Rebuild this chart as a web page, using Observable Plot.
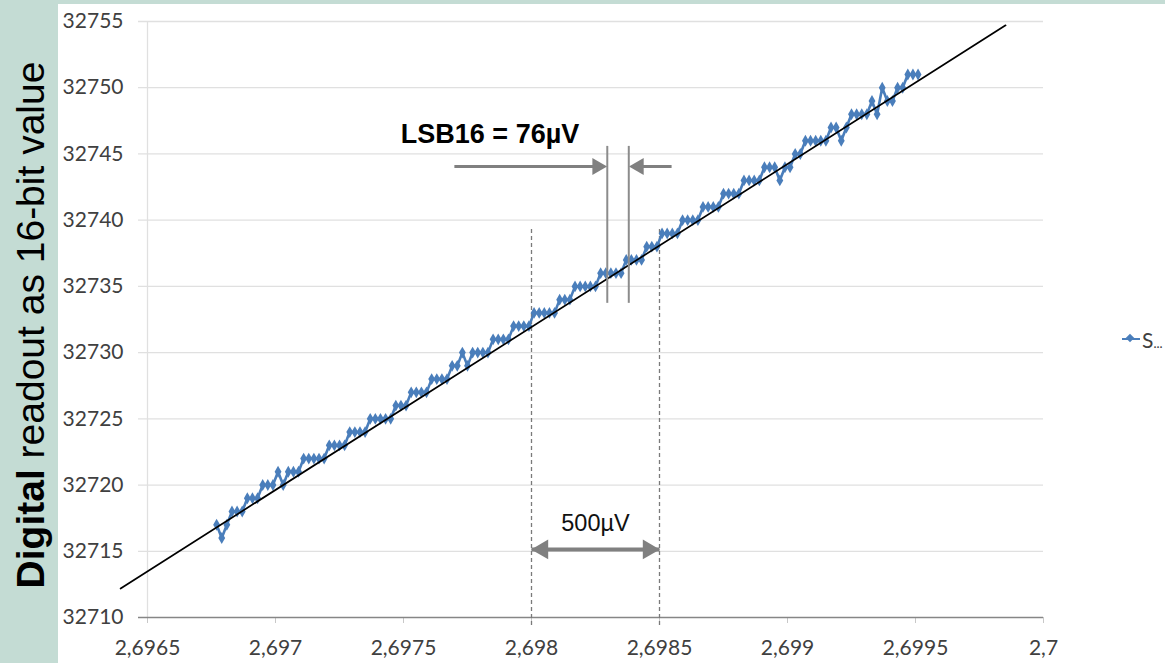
<!DOCTYPE html>
<html><head><meta charset="utf-8">
<script src="https://cdn.jsdelivr.net/npm/d3@7"></script>
<script src="https://cdn.jsdelivr.net/npm/@observablehq/plot@0.6"></script>
<style>
html,body{margin:0;padding:0;background:#fff;}
#wrap{position:relative;width:1165px;height:663px;overflow:hidden;background:#fff;}
#bandL{position:absolute;left:0;top:0;width:58px;height:663px;background:#c4dcd4;}
#bandT{position:absolute;left:0;top:0;width:1165px;height:4px;background:#c4dcd4;}
#ytitle{position:absolute;left:31px;top:325px;transform:translate(-50%,-50%) rotate(-90deg);white-space:nowrap;font-family:"Liberation Sans",Arial,sans-serif;font-size:39px;color:#000;}
#chart{position:absolute;left:0;top:0;}
#legend{position:absolute;left:1122px;top:327px;height:24px;display:flex;align-items:center;}
#legend .ln{position:relative;width:18px;height:2px;background:#4a7ebb;display:inline-block;}
#legend .mk{position:absolute;left:5px;top:-3px;width:6px;height:6px;background:#4a7ebb;transform:rotate(45deg);}
#legend .tx{margin-left:2px;font-family:Lato,sans-serif;font-size:21px;color:#404040;white-space:nowrap;}
#legend .dots{font-size:13px;letter-spacing:0px;}
</style></head>
<body>
<div id="wrap">
  <div id="bandL"></div><div id="bandT"></div>
  <div id="chart"></div>
  <div id="ytitle"><b>Digital</b> readout as 16-bit value</div>
  <div id="legend"><span class="ln"><span class="mk"></span></span><span class="tx">S<span class="dots">...</span></span></div>
</div>
<script>
// Input voltage (V) of each sample
const volts = [
  2.69677, 2.69679, 2.69681, 2.69683, 2.69685, 2.69687, 2.69689, 2.69691, 2.69693, 2.69695,
  2.69697, 2.69699, 2.69701, 2.69703, 2.69705, 2.69707, 2.69709, 2.69711, 2.69713, 2.69715,
  2.69717, 2.69719, 2.69721, 2.69723, 2.69725, 2.69727, 2.69729, 2.69731, 2.69733, 2.69735,
  2.69737, 2.69739, 2.69741, 2.69743, 2.69745, 2.69747, 2.69749, 2.69751, 2.69753, 2.69755,
  2.69757, 2.69759, 2.69761, 2.69763, 2.69765, 2.69767, 2.69769, 2.69771, 2.69773, 2.69775,
  2.69777, 2.69779, 2.69781, 2.69783, 2.69785, 2.69787, 2.69789, 2.69791, 2.69793, 2.69795,
  2.69797, 2.69799, 2.69801, 2.69803, 2.69805, 2.69807, 2.69809, 2.69811, 2.69813, 2.69815,
  2.69817, 2.69819, 2.69821, 2.69823, 2.69825, 2.69827, 2.69829, 2.69831, 2.69833, 2.69835,
  2.69837, 2.69839, 2.69841, 2.69843, 2.69845, 2.69847, 2.69849, 2.69851, 2.69853, 2.69855,
  2.69857, 2.69859, 2.69861, 2.69863, 2.69865, 2.69867, 2.69869, 2.69871, 2.69873, 2.69875,
  2.69877, 2.69879, 2.69881, 2.69883, 2.69885, 2.69887, 2.69889, 2.69891, 2.69893, 2.69895,
  2.69897, 2.69899, 2.69901, 2.69903, 2.69905, 2.69907, 2.69909, 2.69911, 2.69913, 2.69915,
  2.69917, 2.69919, 2.69921, 2.69923, 2.69925, 2.69927, 2.69929, 2.69931, 2.69933, 2.69935,
  2.69937, 2.69939, 2.69941, 2.69943, 2.69945, 2.69947, 2.69949, 2.69951
];
// Digital readout (16-bit code) of each sample
const codes = [
  32717, 32716, 32717, 32718, 32718, 32718, 32719, 32719, 32719, 32720,
  32720, 32720, 32721, 32720, 32721, 32721, 32721, 32722, 32722, 32722,
  32722, 32722, 32723, 32723, 32723, 32723, 32724, 32724, 32724, 32724,
  32725, 32725, 32725, 32725, 32725, 32726, 32726, 32726, 32727, 32727,
  32727, 32727, 32728, 32728, 32728, 32728, 32729, 32729, 32730, 32729,
  32730, 32730, 32730, 32730, 32731, 32731, 32731, 32731, 32732, 32732,
  32732, 32732, 32733, 32733, 32733, 32733, 32733, 32734, 32734, 32734,
  32735, 32735, 32735, 32735, 32735, 32736, 32736, 32736, 32736, 32736,
  32737, 32737, 32737, 32737, 32738, 32738, 32738, 32739, 32739, 32739,
  32739, 32740, 32740, 32740, 32740, 32741, 32741, 32741, 32741, 32742,
  32742, 32742, 32742, 32743, 32743, 32743, 32743, 32744, 32744, 32744,
  32743, 32744, 32744, 32745, 32745, 32746, 32746, 32746, 32746, 32746,
  32747, 32747, 32746, 32747, 32748, 32748, 32748, 32748, 32749, 32748,
  32750, 32749, 32749, 32750, 32750, 32751, 32751, 32751
];
// Ideal transfer line (endpoints)
const fitVolts = [2.696395, 2.699852];
const fitCodes = [32712.19, 32754.71];
// Axis ticks
const xTicks = [2.6965, 2.697, 2.6975, 2.698, 2.6985, 2.699, 2.6995, 2.7];
const yTicks = [32710, 32715, 32720, 32725, 32730, 32735, 32740, 32745, 32750, 32755];
// Annotations
const spanVolts = [2.698, 2.6985];          // 500 µV span
const spanLabel = ["500µV"];
const lsbVolts = [2.698296, 2.69838];       // one LSB step
const lsbLabel = ["LSB16 = 76µV"];

const points = volts.map((v, i) => ({v, c: codes[i]}));
const fmtX = d => String(d).replace(".", ",");
const fmtY = d => String(d);
const gray = "#808080";
const lsbArrowY = 32744.06;
const spanArrowY = 32715.14;

const chart = Plot.plot({
  width: 1165, height: 663,
  marginLeft: 147, marginRight: 122, marginTop: 21, marginBottom: 46,
  style: {background: "transparent", fontFamily: "Lato, sans-serif", fontSize: "21px", color: "#404040", overflow: "visible"},
  x: {domain: [xTicks[0], xTicks[xTicks.length - 1]], axis: null},
  y: {domain: [yTicks[0], yTicks[yTicks.length - 1]], axis: null},
  marks: [
    Plot.ruleY(yTicks.slice(1), {stroke: "#e0e0e0", strokeWidth: 1.3, insetLeft: -9}),
    Plot.ruleX([xTicks[0]], {stroke: "#e0e0e0", strokeWidth: 1.3}),
    Plot.axisY({ticks: yTicks, tickFormat: fmtY, tickSize: 0, tickPadding: 24, label: null, fill: "#404040", fontSize: 21}),
    Plot.axisX({ticks: xTicks, tickFormat: fmtX, tickSize: 6, tickPadding: 17, label: null, stroke: "#c8c8c8", fill: "#404040", fontSize: 21}),
    Plot.ruleY([yTicks[0]], {stroke: "#868686", strokeWidth: 1.5, insetLeft: -9}),
    // dashed 500 µV markers
    Plot.ruleX(spanVolts, {y1: 32709.4, y2: 32739.45, stroke: "#7a7a7a", strokeWidth: 1.3, strokeDasharray: "4,3"}),
    // measured data
    Plot.line(points, {x: "v", y: "c", stroke: "#4a7ebb", strokeWidth: 2.6}),
    Plot.dot(points, {x: "v", y: "c", symbol: "diamond", r: 3.6, fill: "#4a7ebb"}),
    // ideal line
    Plot.line(fitVolts.map((v, i) => ({v, c: fitCodes[i]})), {x: "v", y: "c", stroke: "#000", strokeWidth: 1.7}),
    // LSB lines and arrows
    Plot.ruleX(lsbVolts, {y1: 32733.72, y2: 32745.57, stroke: "#8c8c8c", strokeWidth: 2}),
    Plot.link([{x1: 2.69773, x2: lsbVolts[0]}], {x1: "x1", x2: "x2", y1: lsbArrowY, y2: lsbArrowY, stroke: gray, strokeWidth: 3, dx: -8}),
    Plot.link([{x1: 2.698516, x2: lsbVolts[1]}], {x1: "x1", x2: "x2", y1: lsbArrowY, y2: lsbArrowY, stroke: gray, strokeWidth: 3, dx: 8}),
    Plot.dot([lsbVolts[0]], {x: d => d, y: lsbArrowY, symbol: "triangle", r: 6.3, rotate: 90, dx: -10, fill: gray}),
    Plot.dot([lsbVolts[1]], {x: d => d, y: lsbArrowY, symbol: "triangle", r: 6.3, rotate: -90, dx: 10, fill: gray}),
    Plot.text(lsbLabel, {x: 2.697838, y: 32746.48, text: d => d, fontFamily: "Liberation Sans, Arial, sans-serif", fontWeight: "bold", fontSize: 27, fill: "#000"}),
    // 500 µV double arrow
    Plot.link([{x1: spanVolts[0], x2: spanVolts[1]}], {x1: "x1", x2: "x2", y1: spanArrowY, y2: spanArrowY, stroke: gray, strokeWidth: 4, insetLeft: 10, insetRight: 10}),
    Plot.dot([spanVolts[0]], {x: d => d, y: spanArrowY, symbol: "triangle", r: 7.3, rotate: -90, dx: 11, fill: gray}),
    Plot.dot([spanVolts[1]], {x: d => d, y: spanArrowY, symbol: "triangle", r: 7.3, rotate: 90, dx: -11, fill: gray}),
    Plot.text(spanLabel, {x: (spanVolts[0] + spanVolts[1]) / 2, y: 32717.1, text: d => d, fontFamily: "Liberation Sans, Arial, sans-serif", fontSize: 23.5, fill: "#111"})
  ]
});
document.getElementById("chart").appendChild(chart);
</script>
</body></html>
